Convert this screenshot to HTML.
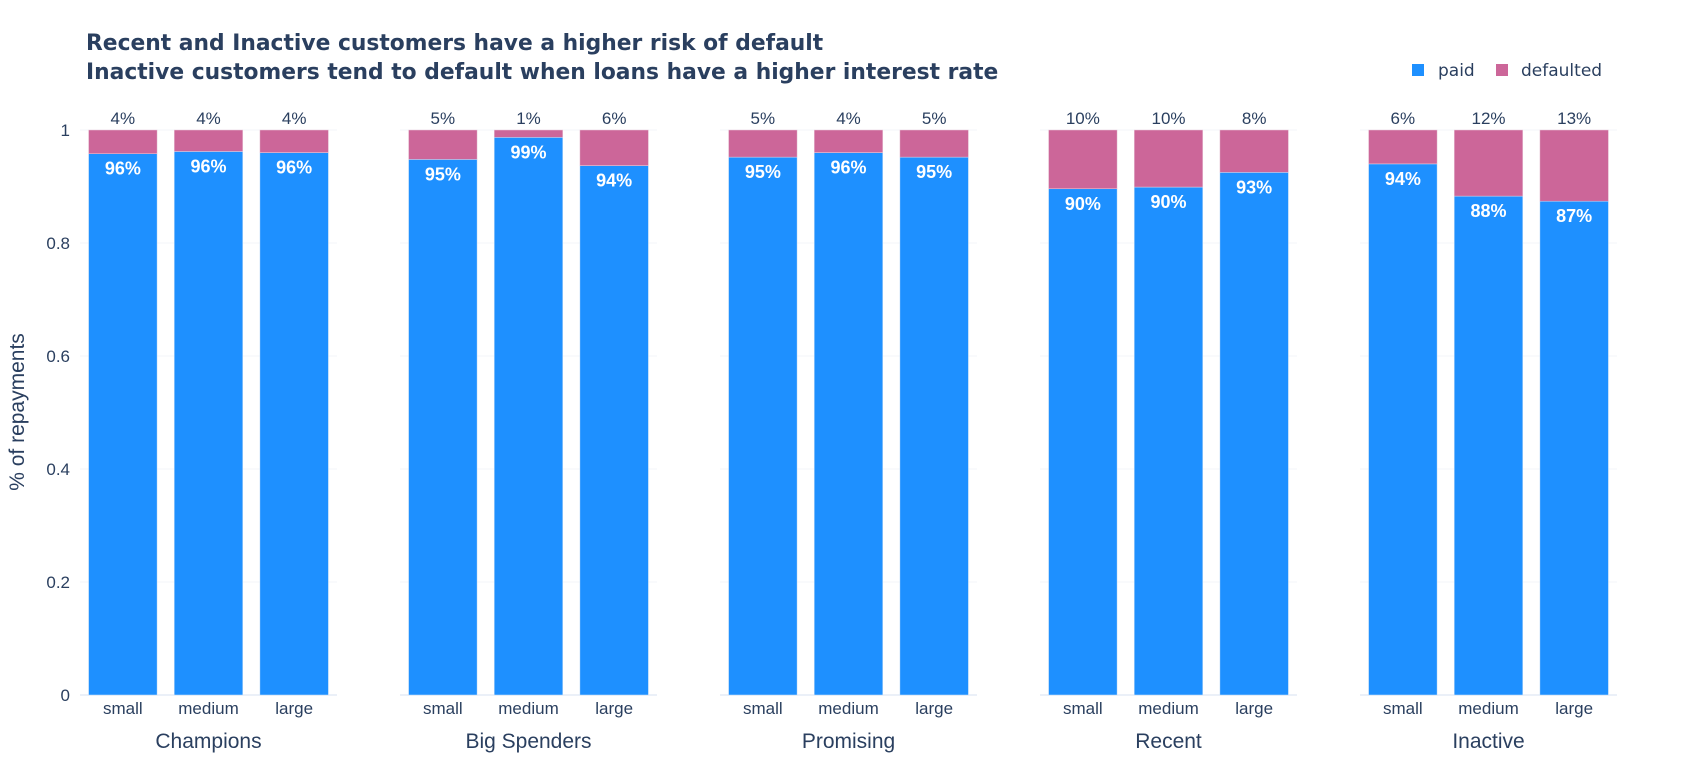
<!DOCTYPE html>
<html><head><meta charset="utf-8"><style>
html,body{margin:0;padding:0;background:#fff;}
svg{display:block;font-family:"Liberation Sans","DejaVu Sans",sans-serif;}
</style></head><body>
<svg id="chart" width="1691" height="775">
<text x="86" y="50" font-size="21.8" font-weight="bold" fill="#2a3f5f" style="font-family:'DejaVu Sans',sans-serif">Recent and Inactive customers have a higher risk of default</text>
<text x="86" y="79" font-size="21.8" font-weight="bold" fill="#2a3f5f" style="font-family:'DejaVu Sans',sans-serif">Inactive customers tend to default when loans have a higher interest rate</text>
<g>
<rect x="1412" y="64" width="12" height="12" fill="#1e90ff"/>
<text x="1438" y="76" font-size="17" fill="#2a3f5f" style="font-family:'DejaVu Sans',sans-serif">paid</text>
<rect x="1496" y="64" width="12" height="12" fill="#cc6699"/>
<text x="1521" y="76" font-size="17" fill="#2a3f5f" style="font-family:'DejaVu Sans',sans-serif">defaulted</text>
</g>
<text transform="translate(24,412) rotate(-90)" text-anchor="middle" font-size="21" fill="#2a3f5f">% of repayments</text>
<g id="plot"></g>
</svg>
<script>
const segments = ["Champions","Big Spenders","Promising","Recent","Inactive"];
const sizes = ["small","medium","large"];
const paidValues = [0.958,0.962,0.960, 0.948,0.987,0.937, 0.952,0.960,0.952, 0.896,0.899,0.925, 0.940,0.883,0.874];
const paidLabels = ["96%","96%","96%","95%","99%","94%","95%","96%","95%","90%","90%","93%","94%","88%","87%"];
const defaultedLabels = ["4%","4%","4%","5%","1%","6%","5%","4%","5%","10%","10%","8%","6%","12%","13%"];
const yTicks = [0,0.2,0.4,0.6,0.8,1];
const yTickLabels = ["0","0.2","0.4","0.6","0.8","1"];

const NS="http://www.w3.org/2000/svg";
const plot=document.getElementById('plot');
const y0=695, y1=130;
function yScale(v){return y0-(y0-y1)*v;}
const facetW=257, facetGap=320, facetX0=80;
function facetX(i){return facetX0+i*facetGap;}
function bandX(i,j){return facetX(i)+facetW/3*j;}
function mk(tag,attrs){const e=document.createElementNS(NS,tag);for(const k in attrs)e.setAttribute(k,attrs[k]);plot.appendChild(e);return e;}

yTicks.forEach((t,k)=>{
  const l=mk('text',{x:70,y:yScale(t)+6,'text-anchor':'end','font-size':17,fill:'#2a3f5f'});
  l.textContent=yTickLabels[k];
  
  
});
segments.forEach((seg,i)=>{
  const fx=facetX(i);
  yTicks.forEach(t=>{
    const g=mk('line',{x1:fx,x2:fx+facetW,y1:yScale(t),y2:yScale(t),stroke:t===0?'#ebf0f8':'#f3f5f9','stroke-width':t===0?2:1});
    
    
  });
  const bw=facetW/3*0.8;
  sizes.forEach((sz,j)=>{
    const idx=i*3+j;
    const v=paidValues[idx];
    const bx=bandX(i,j)+facetW/3*0.1;
    const pb=mk('rect',{x:bx,y:yScale(v),width:bw,height:yScale(0)-yScale(v),fill:'#1e90ff',stroke:'#d6e6f7','stroke-width':0.5});
    
    
    const db=mk('rect',{x:bx,y:yScale(1),width:bw,height:yScale(v)-yScale(1),fill:'#cc6699',stroke:'#ecd0de','stroke-width':0.5});
    
    
    const pl=mk('text',{x:bx+bw/2,y:yScale(v)+21,'text-anchor':'middle','font-size':18,'font-weight':'bold',fill:'#fff'});
    pl.textContent=paidLabels[idx];
    
    
    const dl=mk('text',{x:bx+bw/2,y:yScale(1)-6,'text-anchor':'middle','font-size':17,fill:'#2a3f5f'});
    dl.textContent=defaultedLabels[idx];
    
    
    const xl=mk('text',{x:bx+bw/2,y:714,'text-anchor':'middle','font-size':17,fill:'#2a3f5f'});
    xl.textContent=sz;
    
    
  });
  const st=mk('text',{x:fx+facetW/2,y:748,'text-anchor':'middle','font-size':21,fill:'#2a3f5f'});
  st.textContent=seg;
  
  
});
</script>
</body></html>
